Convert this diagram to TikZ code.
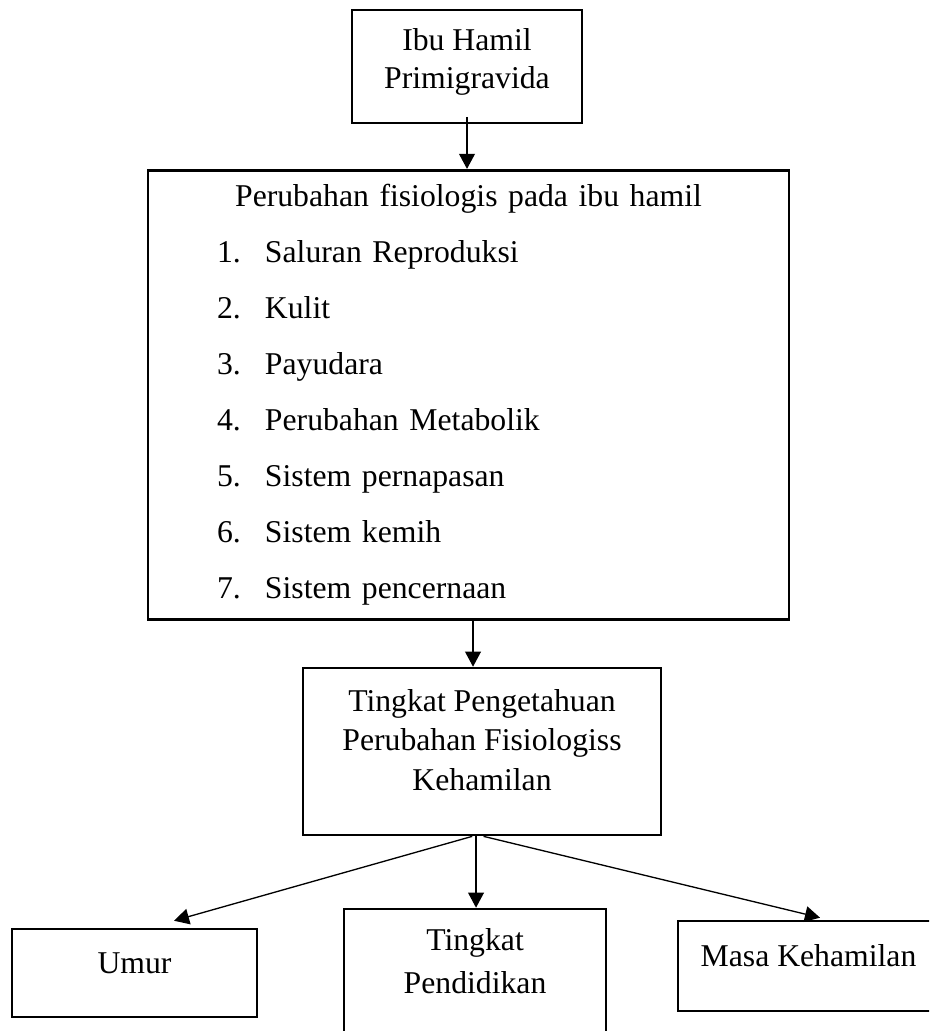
\documentclass[tikz,border=0pt]{standalone}
\usepackage{fontspec}
\setmainfont{Liberation Serif}
\usetikzlibrary{arrows.meta,positioning,calc}

\begin{document}
\begin{tikzpicture}[
  kotak/.style={draw,line width=1pt,align=center,inner sep=0pt},
  panah/.style={-{Triangle[length=0.2cm,width=0.21cm]},line width=0.5pt}
]
  \useasboundingbox (0,0) rectangle (12.356,-13.712);
  \clip (0,0) rectangle (12.356,-13.712);
  \node[kotak,minimum width=3.06cm,minimum height=1.503cm,text depth=6.3pt,
    font=\fontsize{12}{14.4}\selectfont] (ibu) at (6.211,-0.884)
    {Ibu Hamil\\ Primigravida};
  \node[kotak,align=left,text width=8.525cm,minimum height=5.972cm,
    font=\fontsize{12}{21.2}\selectfont] (perubahan) at (6.231,-5.250)
    {\makebox[8.525cm]{Perubahan fisiologis pada ibu hamil}\\
     \hspace*{0.918cm}\makebox[0.638cm][l]{1.}Saluran Reproduksi\\
     \hspace*{0.918cm}\makebox[0.638cm][l]{2.}Kulit\\
     \hspace*{0.918cm}\makebox[0.638cm][l]{3.}Payudara\\
     \hspace*{0.918cm}\makebox[0.638cm][l]{4.}Perubahan Metabolik\\
     \hspace*{0.918cm}\makebox[0.638cm][l]{5.}Sistem pernapasan\\
     \hspace*{0.918cm}\makebox[0.638cm][l]{6.}Sistem kemih\\
     \hspace*{0.918cm}\makebox[0.638cm][l]{7.}Sistem pencernaan};
  \node[kotak,minimum width=4.761cm,minimum height=2.221cm,text depth=8.9pt,
    font=\fontsize{12}{15}\selectfont] (tingkat) at (6.411,-9.995)
    {Tingkat Pengetahuan\\ Perubahan Fisiologiss\\ Kehamilan};
  \node[kotak,minimum width=3.259cm,minimum height=1.170cm,text depth=7.2pt,
    font=\fontsize{12}{14.4}\selectfont] (umur) at (1.789,-12.941) {Umur};
  \node[kotak,minimum width=3.485cm,minimum height=1.809cm,text depth=12.4pt,
    font=\fontsize{12}{16.3}\selectfont] (pend) at (6.318,-12.994)
    {Tingkat\\ Pendidikan};
  \node[kotak,minimum width=3.471cm,minimum height=1.197cm,text depth=8.2pt,
    font=\fontsize{12}{14.4}\selectfont] (masa) at (10.753,-12.848)
    {Masa Kehamilan};

  \draw[panah] ([yshift=0.1cm]ibu.south) -- (ibu.south |- perubahan.north);
  \coordinate (turun) at ([xshift=-0.12cm]tingkat.north);
  \draw[panah] (turun |- perubahan.south) -- (turun);
  \coordinate (pusat) at ([xshift=-0.08cm]tingkat.south);
  \draw[panah] ([xshift=-0.05cm]pusat) -- ([shift={(0.525,0.093)}]umur.north);
  \draw[panah] (pusat) -- (pusat |- pend.north);
  \draw[panah] ([xshift=0.1cm]pusat) -- ([shift={(0.153,0.027)}]masa.north);
\end{tikzpicture}
\end{document}
